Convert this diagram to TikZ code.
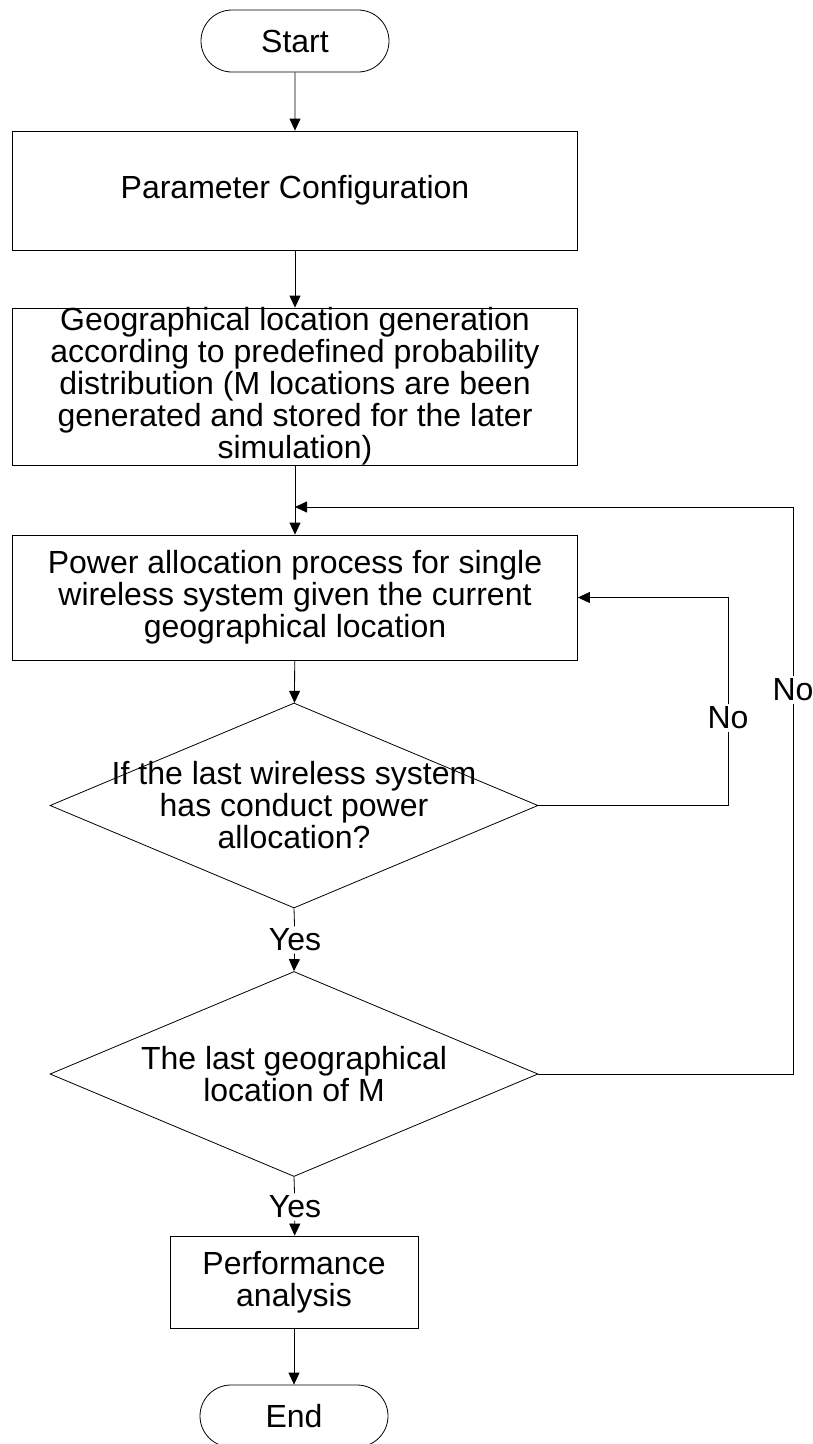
\documentclass[tikz,border=0pt]{standalone}
\usepackage{fontspec}
\setmainfont{Liberation Sans}
\usetikzlibrary{arrows.meta}
\usetikzlibrary{shapes.misc}
\usetikzlibrary{shapes.geometric}

\begin{document}
\begin{tikzpicture}[x=1pt, y=-1pt, line width=0.8pt,
    every node/.style={font=\fontsize{32}{32}\selectfont, align=center},
    term/.style={draw, rounded rectangle, minimum width=188pt, minimum height=62pt, inner sep=0pt},
    proc/.style={draw, rectangle, minimum width=565pt, inner sep=0pt},
    decide/.style={draw, diamond, minimum width=488pt, minimum height=205pt, inner sep=0pt},
    answer/.style={fill=white, inner sep=2pt},
    flow/.style={-{Triangle[length=12pt, width=11pt]}}]
    \useasboundingbox (0, 0) rectangle (812, 1444);

    \node[term] (start) at (295, 41) {Start};
    \node[proc, minimum height=119pt] (param) at (295, 190.5) {Parameter Configuration};
    \node[proc, minimum height=157pt,
        label={center:Geographical location generation\\according to predefined probability\\distribution (M locations are been\\generated and stored for the later\\simulation)}]
        (geo) at (295, 386.5) {};
    \node[proc, minimum height=125pt] (power) at (295, 597.5)
        {Power allocation process for single\\wireless system given the current\\geographical location};
    \node[decide, label={center:If the last wireless system\\has conduct power\\allocation?}] (dec1) at (294, 805.5) {};
    \node[answer] (yes1) at (295, 940) {Yes};
    \node[decide, label={center:The last geographical\\location of M}] (dec2) at (294, 1074) {};
    \node[answer] (yes2) at (295, 1207) {Yes};
    \node[proc, minimum width=248pt, minimum height=92pt] (perf) at (294, 1282) {Performance\\analysis};
    \node[term] (end) at (294, 1416) {End};

    \node[answer] (no1) at (728, 718) {No};
    \node[answer] (no2) at (793, 690) {No};
    \coordinate (c1) at (728, 805.5);
    \coordinate (c2) at (793, 1074);
    \coordinate (join) at (295, 507);

    \draw[flow] (start) -- (param);
    \draw[flow] (param) -- (geo);
    \draw[flow] (geo) -- (power);
    \draw[flow] (power) -- (dec1);
    \draw (dec1.south) -- (yes1);
    \draw[flow] (yes1) -- (dec2.north);
    \draw (dec2.south) -- (yes2);
    \draw[flow] (yes2) -- (perf);
    \draw[flow] (perf) -- (end);

    \draw (dec1.east) -- (c1) -- (no1);
    \draw[flow] (no1) |- (power.east);
    \draw (dec2.east) -- (c2) -- (no2);
    \draw[flow] (no2) |- (join);
\end{tikzpicture}
\end{document}
